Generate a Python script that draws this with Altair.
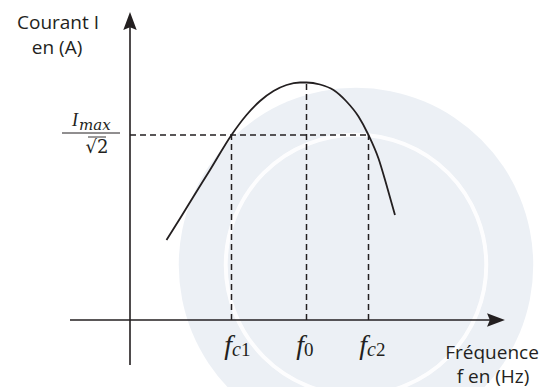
import math
import altair as alt
import pandas as pd

# Resonance curve of a series RLC circuit: current I versus frequency f
# (arbitrary units; origin of both axes at 0)
curve_f = [0.73, 1.00, 1.27, 1.60, 2.03, 2.33, 2.60, 2.87, 3.13, 3.40, 3.53,
           3.80, 4.07, 4.33, 4.57, 4.77, 4.97, 5.13, 5.30]
curve_i = [1.60, 2.03, 2.47, 3.00, 3.70, 4.10, 4.38, 4.58, 4.70, 4.75, 4.75,
           4.71, 4.60, 4.37, 4.07, 3.70, 3.23, 2.70, 2.10]

# Characteristic frequencies and the half-power current level
f_c1, f_0, f_c2 = 2.03, 3.53, 4.77
i_max = 4.75
i_cut = 3.70

# Axis extents (tip of each arrow)
x_axis_from, x_axis_tip = -1.2, 7.5
y_axis_from, y_axis_tip = -0.9, 6.16

# Frequency tick labels: italic letter f, italic subscript letter, upright digit
freq_letter = ["f", "f", "f"]
freq_sub_letter = ["c", "", "c"]
freq_sub_digit = ["1", "0", "2"]
letter_x = [2.04, 3.48, 4.74]
digit_x = [2.22, 3.48, 4.92]

INK = "#231f20"
SERIF = "Liberation Serif"
X_DOMAIN = [-2.6, 8.5]
Y_DOMAIN = [-1.34, 6.4]

xs = alt.Scale(domain=X_DOMAIN, nice=False, zero=False)
ys = alt.Scale(domain=Y_DOMAIN, nice=False, zero=False)


def X(field):
    return alt.X(field, type="quantitative", scale=xs, axis=None)


def Y(field):
    return alt.Y(field, type="quantitative", scale=ys, axis=None)


# faint circular seal in the background
seal = pd.DataFrame({"f": [4.52], "i": [1.1]})
seal_disc = alt.Chart(seal).mark_point(
    shape="circle", filled=True, color="#ecf0f5", opacity=1, size=math.pi * 200 ** 2
).encode(x=X("f"), y=Y("i"))
seal_ring = alt.Chart(seal).mark_point(
    shape="circle", filled=False, color="white", strokeWidth=4, opacity=0.9,
    size=math.pi * 147 ** 2
).encode(x=X("f"), y=Y("i"))

# dashed guide lines
h_guide = pd.DataFrame({"f": [0.0], "f2": [f_c2], "i": [i_cut]})
v_guides = pd.DataFrame({"f": [f_c1, f_0, f_c2], "i": [0.0, 0.0, 0.0],
                         "i2": [i_cut, i_max, i_cut]})
dash = dict(color=INK, strokeWidth=1.5, strokeDash=[6, 4])
h_rule = alt.Chart(h_guide).mark_rule(**dash).encode(
    x=X("f"), x2="f2", y=Y("i"))
v_rule = alt.Chart(v_guides).mark_rule(**dash).encode(
    x=X("f"), y=Y("i"), y2="i2")

# axes
axes_df = pd.DataFrame({
    "f": [x_axis_from, 0.0], "f2": [x_axis_tip - 0.2, 0.0],
    "i": [0.0, y_axis_from], "i2": [0.0, y_axis_tip - 0.2],
})
axes = alt.Chart(axes_df).mark_rule(color=INK, strokeWidth=1.6).encode(
    x=X("f"), x2="f2", y=Y("i"), y2="i2")

ARROW = "M0,-1L0.6,0.6L0,0.35L-0.6,0.6Z"
arrows_df = pd.DataFrame({
    "f": [x_axis_tip - 0.225, 0.0],
    "i": [0.0, y_axis_tip - 0.225],
    "angle": [90, 0],
})
arrows = alt.Chart(arrows_df).mark_point(
    shape=ARROW, filled=True, color=INK, opacity=1, size=500
).encode(x=X("f"), y=Y("i"), angle=alt.Angle("angle:Q", scale=None))

# resonance curve
curve_df = pd.DataFrame({"f": curve_f, "i": curve_i})
curve = alt.Chart(curve_df).mark_line(
    color=INK, strokeWidth=1.8, interpolate="monotone"
).encode(x=X("f"), y=Y("i"), order="f:Q")

# axis titles
titles_df = pd.DataFrame({
    "t": ["Courant I", "en (A)", "Fréquence", "f en (Hz)"],
    "f": [-1.44, -1.46, 7.24, 7.26],
    "i": [5.82, 5.33, -0.78, -1.25],
})
titles = alt.Chart(titles_df).mark_text(
    font="Open Sans", fontSize=19, color=INK, align="center", baseline="alphabetic"
).encode(x=X("f"), y=Y("i"), text="t:N")

# frequency labels
lab_df = pd.DataFrame({
    "f": letter_x, "fd": digit_x, "letter": freq_letter,
    "sub_l": freq_sub_letter, "sub_d": freq_sub_digit,
    "i": [-0.68] * 3, "i_sub": [-0.72] * 3,
})
lab_main = alt.Chart(lab_df).mark_text(
    font=SERIF, fontStyle="italic", fontSize=28, color=INK,
    align="right", baseline="alphabetic"
).encode(x=X("f"), y=Y("i"), text="letter:N")
lab_sub_l = alt.Chart(lab_df).mark_text(
    font=SERIF, fontStyle="italic", fontSize=20, color=INK,
    align="left", baseline="alphabetic"
).encode(x=X("f"), y=Y("i_sub"), text="sub_l:N")
lab_sub_d = alt.Chart(lab_df).mark_text(
    font=SERIF, fontSize=19, color=INK,
    align="left", baseline="alphabetic"
).encode(x=X("fd"), y=Y("i_sub"), text="sub_d:N")

# I_max / sqrt(2) label on the current axis
frac_df = pd.DataFrame({"f": [-1.36], "f2": [-0.2], "i": [3.74]})
frac_bar = alt.Chart(frac_df).mark_rule(color=INK, strokeWidth=1).encode(
    x=X("f"), x2="f2", y=Y("i"))
num_df = pd.DataFrame({"f": [-1.04], "i": [3.88], "i_sub": [3.80],
                       "t": ["I"], "s": ["max"]})
num_main = alt.Chart(num_df).mark_text(
    font=SERIF, fontStyle="italic", fontSize=18, color=INK,
    align="right", baseline="alphabetic"
).encode(x=X("f"), y=Y("i"), text="t:N")
num_sub = alt.Chart(num_df).mark_text(
    font="DejaVu Serif", fontStyle="italic", fontSize=15, color=INK,
    align="left", baseline="alphabetic", dx=1
).encode(x=X("f"), y=Y("i_sub"), text="s:N")
den_df = pd.DataFrame({"f": [-0.66], "i": [3.34], "t": ["√2"]})
den = alt.Chart(den_df).mark_text(
    font="DejaVu Serif", fontSize=18, color=INK, align="center", baseline="alphabetic"
).encode(x=X("f"), y=Y("i"), text="t:N")
vinc_df = pd.DataFrame({"f": [-0.84], "f2": [-0.48], "i": [3.66]})
vinc = alt.Chart(vinc_df).mark_rule(color=INK, strokeWidth=0.9).encode(
    x=X("f"), x2="f2", y=Y("i"))

chart = alt.layer(
    seal_disc, seal_ring, h_rule, v_rule, axes, arrows, curve,
    titles, lab_main, lab_sub_l, lab_sub_d, frac_bar, num_main, num_sub, den, vinc,
).properties(
    width=555, height=387, autosize=alt.AutoSizeParams(type="none"),
    padding=0, background="white",
).configure_view(stroke=None)

chart.save("out.html", embed_options={"renderer": "svg", "actions": False})
